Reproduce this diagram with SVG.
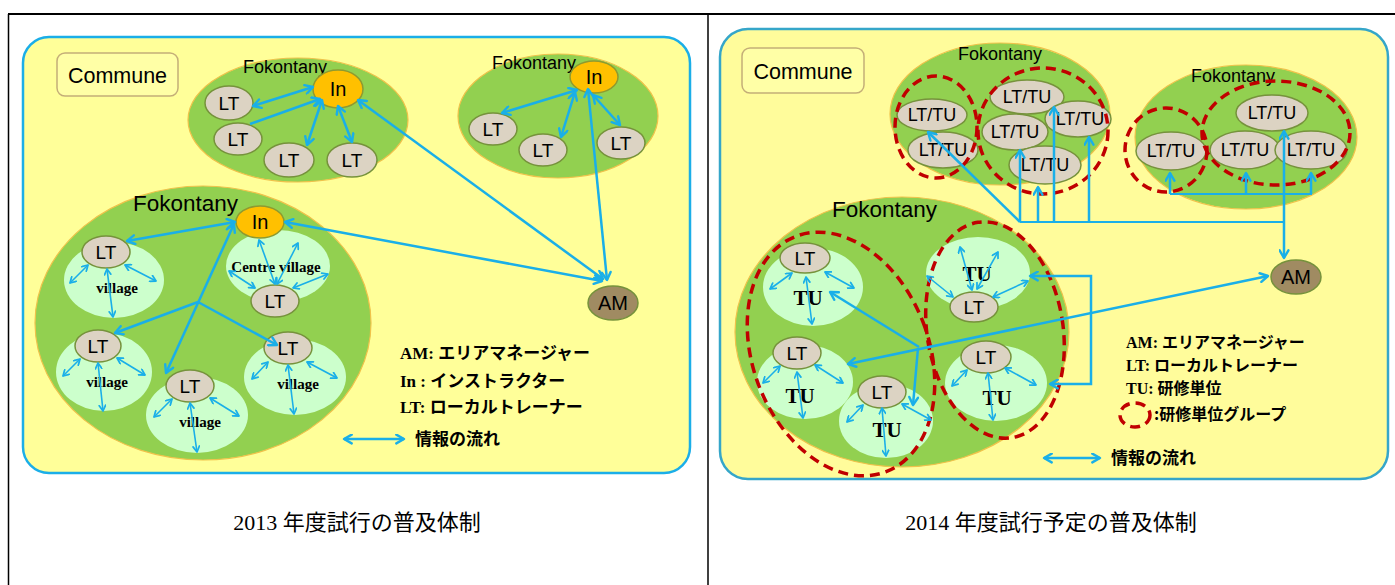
<svg xmlns="http://www.w3.org/2000/svg" width="1395" height="585" viewBox="0 0 1395 585">
<style>
.bg{fill:#FFFFFF}
.tb{stroke:#000;fill:none}
.pl{fill:#FFFF99;stroke:#1BAEE8;stroke-width:2.5}
.pr{fill:#FFFC9B;stroke:#35A6C9;stroke-width:2.5}
.cm{fill:#FFFFA6;stroke:#C4AE78;stroke-width:1.5}
.fk{fill:#92D050;stroke:#F0C24A;stroke-width:1.2}
.lt{fill:#DCD3C3;stroke:#76923C;stroke-width:1.5}
.in{fill:#FFC000;stroke:#8E9A30;stroke-width:1.5}
.am{fill:#A08B62;stroke:#76923C;stroke-width:1.5}
.vil{fill:#CCFFCC}
.grp{fill:none;stroke:#C00000;stroke-width:3.5;stroke-dasharray:10 6}
.t{font-family:"Liberation Sans",Arial,sans-serif;text-anchor:middle;fill:#000}
.ts{font-family:"Liberation Sans",Arial,sans-serif;fill:#000}
.sv{font-family:"Liberation Serif","Times New Roman",serif;font-weight:bold;text-anchor:middle;fill:#000}
.lg{font-family:"Liberation Serif","Noto Sans CJK JP",serif;font-weight:bold;fill:#000}
.jp{font-family:"Noto Sans CJK JP",sans-serif;font-weight:bold}
.cap{font-family:"Liberation Serif","Noto Sans CJK JP",serif;font-size:22px;text-anchor:middle;fill:#000}
.a{stroke:#1AAFE8;stroke-width:2.5;fill:none;marker-end:url(#ah)}
.a2{stroke:#1AAFE8;stroke-width:2.5;fill:none;marker-end:url(#ah);marker-start:url(#ah)}
.ln{stroke:#1AAFE8;stroke-width:2.2;fill:none}
.s{stroke:#1AAFE8;stroke-width:1.6;fill:none;marker-end:url(#as);marker-start:url(#as)}
</style>
<defs>
<marker id="ah" viewBox="0 0 10 10" refX="8.5" refY="5" markerWidth="11" markerHeight="11" markerUnits="userSpaceOnUse" orient="auto-start-reverse"><path d="M1.5,1 L8.5,5 L1.5,9" fill="none" stroke="#1AAFE8" stroke-width="2.2" stroke-linecap="round" stroke-linejoin="round"/></marker>
<marker id="as" viewBox="0 0 10 10" refX="8.5" refY="5" markerWidth="8" markerHeight="8" markerUnits="userSpaceOnUse" orient="auto-start-reverse"><path d="M1.5,1 L8.5,5 L1.5,9" fill="none" stroke="#1AAFE8" stroke-width="2.2" stroke-linecap="round" stroke-linejoin="round"/></marker>
</defs>
<rect class="bg" x="0" y="0" width="1395" height="585"/>
<g id="table">
<line class="tb" x1="8" y1="14" x2="1395" y2="14" stroke-width="2"/>
<line class="tb" x1="8.5" y1="14" x2="8.5" y2="585" stroke-width="1.5"/>
<line class="tb" x1="708" y1="14" x2="708" y2="585" stroke-width="1.5"/>
</g>

<!-- ===== 2013 panel ===== -->
<g id="commune-2013">
<rect class="pl" x="23" y="37" width="667" height="436" rx="26"/>
<rect class="cm" x="57" y="53" width="121" height="43" rx="8"/>
<text class="t" x="117.5" y="83" font-size="21.5">Commune</text>
</g>
<g id="fk13-1">
<ellipse class="fk" cx="298" cy="120" rx="110" ry="62"/>
<text class="ts" x="243" y="73" font-size="18">Fokontany</text>
</g>
<g id="fk13-2">
<ellipse class="fk" cx="558" cy="116" rx="100" ry="62"/>
<text class="ts" x="492" y="69" font-size="18">Fokontany</text>
</g>
<g id="fk13-3">
<ellipse class="fk" cx="203" cy="323" rx="168" ry="137"/>
<text class="ts" x="133" y="211" font-size="22.5">Fokontany</text>
</g>
<g id="vil13-a"><ellipse class="vil" cx="114" cy="280" rx="50" ry="38"/><text class="sv" x="117" y="293" font-size="15">village</text></g>
<g id="vil13-centre"><ellipse class="vil" cx="278" cy="266" rx="52" ry="36"/><text class="sv" x="276" y="272" font-size="15">Centre village</text></g>
<g id="vil13-b"><ellipse class="vil" cx="104" cy="372" rx="48" ry="39"/><text class="sv" x="107" y="387" font-size="15">village</text></g>
<g id="vil13-c"><ellipse class="vil" cx="197" cy="415" rx="51" ry="38"/><text class="sv" x="200" y="427" font-size="15">village</text></g>
<g id="vil13-d"><ellipse class="vil" cx="295" cy="377" rx="51" ry="38"/><text class="sv" x="298" y="389" font-size="15">village</text></g>

<g id="in13-1"><ellipse class="in" cx="338" cy="89" rx="25" ry="19"/><text class="t" x="338" y="96" font-size="20">In</text></g>
<g id="lt13-1a"><ellipse class="lt" cx="229" cy="103" rx="24" ry="17"/><text class="t" x="229" y="110" font-size="19">LT</text></g>
<g id="lt13-1b"><ellipse class="lt" cx="238" cy="139" rx="24" ry="16"/><text class="t" x="238" y="146" font-size="19">LT</text></g>
<g id="lt13-1c"><ellipse class="lt" cx="289" cy="160" rx="25" ry="17"/><text class="t" x="289" y="167" font-size="19">LT</text></g>
<g id="lt13-1d"><ellipse class="lt" cx="352" cy="160" rx="25" ry="17"/><text class="t" x="352" y="167" font-size="19">LT</text></g>

<g id="in13-2"><ellipse class="in" cx="594" cy="77" rx="24" ry="16"/><text class="t" x="594" y="84" font-size="20">In</text></g>
<g id="lt13-2a"><ellipse class="lt" cx="493" cy="129" rx="24" ry="16"/><text class="t" x="493" y="136" font-size="19">LT</text></g>
<g id="lt13-2b"><ellipse class="lt" cx="543" cy="150" rx="24" ry="16"/><text class="t" x="543" y="157" font-size="19">LT</text></g>
<g id="lt13-2c"><ellipse class="lt" cx="621" cy="143" rx="24" ry="16"/><text class="t" x="621" y="150" font-size="19">LT</text></g>

<g id="in13-3"><ellipse class="in" cx="260" cy="222" rx="24" ry="16"/><text class="t" x="260" y="229" font-size="20">In</text></g>
<g id="lt13-3a"><ellipse class="lt" cx="106" cy="252" rx="24" ry="16"/><text class="t" x="106" y="259" font-size="19">LT</text></g>
<g id="lt13-3centre"><ellipse class="lt" cx="275" cy="301" rx="24" ry="16"/><text class="t" x="275" y="308" font-size="19">LT</text></g>
<g id="lt13-3b"><ellipse class="lt" cx="98" cy="346" rx="23" ry="16"/><text class="t" x="98" y="353" font-size="19">LT</text></g>
<g id="lt13-3c"><ellipse class="lt" cx="190" cy="386" rx="24" ry="16"/><text class="t" x="190" y="393" font-size="19">LT</text></g>
<g id="lt13-3d"><ellipse class="lt" cx="288" cy="348" rx="24" ry="16"/><text class="t" x="288" y="355" font-size="19">LT</text></g>

<g id="am13"><ellipse class="am" cx="613" cy="303" rx="25" ry="17"/><text class="t" x="613" y="310" font-size="20">AM</text></g>

<g id="connectors-2013">
<line class="a2" x1="313" y1="87" x2="253" y2="106"/>
<line class="a" x1="250" y1="124" x2="320" y2="99"/>
<line class="a2" x1="322" y1="100" x2="307" y2="145"/>
<line class="a2" x1="338" y1="106" x2="352" y2="142"/>
<line class="a2" x1="358" y1="100" x2="603" y2="279"/>
<line class="a2" x1="577" y1="90" x2="502" y2="113"/>
<line class="a2" x1="575" y1="92" x2="561" y2="137"/>
<line class="a2" x1="593" y1="95" x2="620" y2="125"/>
<line class="a2" x1="588" y1="89" x2="607" y2="280"/>
<line class="a2" x1="285" y1="222" x2="602" y2="281"/>
<line class="a2" x1="235" y1="222" x2="127" y2="241"/>
<line class="a2" x1="234" y1="224" x2="166" y2="373"/>
<line class="a" x1="198" y1="302" x2="115" y2="333"/>
<line class="a" x1="198" y1="302" x2="277" y2="345"/>
<line class="s" x1="88" y1="265" x2="70" y2="283"/>
<line class="s" x1="125" y1="265" x2="156" y2="281"/>
<line class="s" x1="107" y1="269" x2="113" y2="317"/>
<line class="s" x1="259" y1="240" x2="275" y2="284" stroke-width="2"/>
<line class="s" x1="298" y1="243" x2="277" y2="284"/>
<line class="s" x1="255" y1="288" x2="229" y2="271"/>
<line class="s" x1="293" y1="288" x2="328" y2="274"/>
<line class="s" x1="80" y1="359" x2="63" y2="376"/>
<line class="s" x1="117" y1="358" x2="145" y2="375"/>
<line class="s" x1="98" y1="363" x2="103" y2="411"/>
<line class="s" x1="172" y1="399" x2="154" y2="417"/>
<line class="s" x1="210" y1="398" x2="239" y2="416"/>
<line class="s" x1="190" y1="403" x2="197" y2="452"/>
<line class="s" x1="268" y1="362" x2="252" y2="379"/>
<line class="s" x1="307" y1="362" x2="337" y2="378"/>
<line class="s" x1="288" y1="365" x2="294" y2="414"/>
</g>

<g id="legend-2013">
<text class="lg" x="400" y="359" font-size="17">AM: <tspan class="jp">エリアマネージャー</tspan></text>
<text class="lg" x="400" y="387" font-size="17">In : <tspan class="jp">インストラクター</tspan></text>
<text class="lg" x="400" y="413" font-size="17">LT: <tspan class="jp">ローカルトレーナー</tspan></text>
<line class="a2" x1="344" y1="439" x2="404" y2="439"/>
<text class="jp" x="415" y="445" font-size="17">情報の流れ</text>
</g>

<!-- ===== 2014 panel ===== -->
<g id="commune-2014">
<rect class="pr" x="720" y="29" width="668" height="450" rx="28"/>
<rect class="cm" x="742" y="48" width="122" height="45" rx="8"/>
<text class="t" x="803" y="79" font-size="21.5">Commune</text>
</g>
<g id="fk14-1">
<ellipse class="fk" cx="1000" cy="114" rx="110" ry="71" stroke="none"/>
<text class="ts" x="958" y="60" font-size="18">Fokontany</text>
</g>
<g id="fk14-2">
<ellipse class="fk" cx="1246" cy="137" rx="111" ry="72" stroke="none"/>
<text class="ts" x="1191" y="82" font-size="18">Fokontany</text>
</g>
<g id="fk14-3">
<ellipse class="fk" cx="902" cy="332" rx="167" ry="135" stroke="none"/>
<text class="ts" x="832" y="217" font-size="22.5">Fokontany</text>
</g>

<g id="lttu-a"><ellipse class="lt" cx="932" cy="115" rx="35" ry="16"/><text class="t" x="932" y="121" font-size="18">LT/TU</text></g>
<g id="lttu-b"><ellipse class="lt" cx="943" cy="150" rx="35" ry="18"/><text class="t" x="943" y="156" font-size="18">LT/TU</text></g>
<g id="lttu-c"><ellipse class="lt" cx="1027" cy="97" rx="37" ry="17"/><text class="t" x="1027" y="103" font-size="18">LT/TU</text></g>
<g id="lttu-d"><ellipse class="lt" cx="1015" cy="132" rx="33" ry="18"/><text class="t" x="1015" y="138" font-size="18">LT/TU</text></g>
<g id="lttu-e"><ellipse class="lt" cx="1078" cy="119" rx="33" ry="18"/><text class="t" x="1080" y="125" font-size="18">LT/TU</text></g>
<g id="lttu-f"><ellipse class="lt" cx="1045" cy="165" rx="36" ry="19"/><text class="t" x="1045" y="171" font-size="18">LT/TU</text></g>
<g id="lttu-g"><ellipse class="lt" cx="1171" cy="151" rx="35" ry="19"/><text class="t" x="1171" y="157" font-size="18">LT/TU</text></g>
<g id="lttu-h"><ellipse class="lt" cx="1272" cy="113" rx="36" ry="18"/><text class="t" x="1272" y="119" font-size="18">LT/TU</text></g>
<g id="lttu-i"><ellipse class="lt" cx="1245" cy="150" rx="35" ry="19"/><text class="t" x="1245" y="156" font-size="18">LT/TU</text></g>
<g id="lttu-j"><ellipse class="lt" cx="1311" cy="150" rx="36" ry="19"/><text class="t" x="1311" y="156" font-size="18">LT/TU</text></g>

<g id="tu-1"><ellipse class="vil" cx="813" cy="287" rx="50" ry="39"/><text class="sv" x="808" y="305" font-size="21">TU</text></g>
<g id="tu-2"><ellipse class="vil" cx="978" cy="273" rx="52" ry="36"/><text class="sv" x="977" y="281" font-size="21">TU</text></g>
<g id="tu-3"><ellipse class="vil" cx="805" cy="382" rx="48" ry="37"/><text class="sv" x="800" y="403" font-size="21">TU</text></g>
<g id="tu-4"><ellipse class="vil" cx="886" cy="421" rx="47" ry="37"/><text class="sv" x="887" y="437" font-size="21">TU</text></g>
<g id="tu-5"><ellipse class="vil" cx="996" cy="383" rx="51" ry="38"/><text class="sv" x="997" y="405" font-size="21">TU</text></g>

<g id="lt14-1"><ellipse class="lt" cx="805" cy="258" rx="25" ry="15"/><text class="t" x="805" y="265" font-size="19">LT</text></g>
<g id="lt14-2"><ellipse class="lt" cx="974" cy="307" rx="24" ry="15"/><text class="t" x="974" y="314" font-size="19">LT</text></g>
<g id="lt14-3"><ellipse class="lt" cx="797" cy="353" rx="24" ry="16"/><text class="t" x="797" y="360" font-size="19">LT</text></g>
<g id="lt14-4"><ellipse class="lt" cx="882" cy="392" rx="24" ry="16"/><text class="t" x="882" y="399" font-size="19">LT</text></g>
<g id="lt14-5"><ellipse class="lt" cx="986" cy="357" rx="25" ry="16"/><text class="t" x="986" y="364" font-size="19">LT</text></g>

<g id="am14"><ellipse class="am" cx="1296" cy="277" rx="25" ry="17"/><text class="t" x="1296" y="284" font-size="20">AM</text></g>

<g id="groups-2014">
<ellipse class="grp" cx="936" cy="127" rx="41" ry="51"/>
<ellipse class="grp" cx="1043" cy="131" rx="65" ry="63"/>
<ellipse class="grp" cx="1166" cy="150" rx="41" ry="42"/>
<ellipse class="grp" cx="1276" cy="133" rx="74" ry="52"/>
<ellipse class="grp" cx="0" cy="0" rx="88" ry="126" transform="translate(841 354) rotate(-21)"/>
<ellipse class="grp" cx="0" cy="0" rx="68" ry="109" transform="translate(995 330) rotate(-9)"/>
</g>

<g id="connectors-2014">
<line class="ln" x1="1020" y1="222" x2="1284" y2="222"/>
<line class="a2" x1="1284" y1="131" x2="1284" y2="258" stroke-width="2.2"/>
<line class="a" x1="1020" y1="222" x2="1020" y2="150" stroke-width="2.2"/>
<line class="a" x1="1038" y1="222" x2="1038" y2="187" stroke-width="2.2"/>
<line class="a" x1="1054" y1="222" x2="1054" y2="107" stroke-width="2.2"/>
<line class="a" x1="1089" y1="222" x2="1089" y2="137" stroke-width="2.2"/>
<line class="a" x1="1020" y1="222" x2="928" y2="132" stroke-width="2.2"/>
<line class="ln" x1="1170" y1="194" x2="1312" y2="194"/>
<line class="a" x1="1170" y1="194" x2="1170" y2="173" stroke-width="2.2"/>
<line class="a" x1="1246" y1="194" x2="1246" y2="173" stroke-width="2.2"/>
<line class="a" x1="1311" y1="194" x2="1311" y2="173" stroke-width="2.2"/>
<line class="a2" x1="1268" y1="276" x2="848" y2="364" stroke-width="2.2"/>
<line class="a" x1="919" y1="347" x2="830" y2="292" stroke-width="2.2"/>
<line class="a" x1="918" y1="348" x2="913" y2="405" stroke-width="2.2"/>
<path class="a2" d="M1030,276 H1091 V384 H1050" stroke-width="2.2"/>
<line class="s" x1="792" y1="273" x2="770" y2="289"/>
<line class="s" x1="825" y1="272" x2="854" y2="288"/>
<line class="s" x1="806" y1="277" x2="812" y2="324"/>
<line class="s" x1="972" y1="290" x2="960" y2="247"/>
<line class="s" x1="977" y1="289" x2="998" y2="252"/>
<line class="s" x1="953" y1="297" x2="927" y2="276"/>
<line class="s" x1="993" y1="297" x2="1028" y2="281"/>
<line class="s" x1="780" y1="366" x2="763" y2="383"/>
<line class="s" x1="815" y1="365" x2="843" y2="383"/>
<line class="s" x1="797" y1="372" x2="803" y2="418"/>
<line class="s" x1="863" y1="405" x2="847" y2="422"/>
<line class="s" x1="902" y1="404" x2="931" y2="420"/>
<line class="s" x1="882" y1="408" x2="886" y2="456"/>
<line class="s" x1="967" y1="370" x2="952" y2="386"/>
<line class="s" x1="1005" y1="368" x2="1036" y2="385"/>
<line class="s" x1="988" y1="373" x2="993" y2="420"/>
</g>

<g id="legend-2014">
<text class="lg" x="1126" y="348" font-size="16">AM: <tspan class="jp">エリアマネージャー</tspan></text>
<text class="lg" x="1126" y="371" font-size="16">LT: <tspan class="jp">ローカルトレーナー</tspan></text>
<text class="lg" x="1126" y="394" font-size="16">TU: <tspan class="jp">研修単位</tspan></text>
<ellipse class="grp" cx="1135" cy="415" rx="15" ry="12" stroke-dasharray="8 5"/>
<text class="jp" x="1154" y="420" font-size="16">:研修単位グループ</text>
<line class="a2" x1="1044" y1="458" x2="1100" y2="458"/>
<text class="jp" x="1111" y="464" font-size="17">情報の流れ</text>
</g>

<g id="captions">
<text class="cap" x="357" y="530">2013 年度試行の普及体制</text>
<text class="cap" x="1051" y="530">2014 年度試行予定の普及体制</text>
</g>
</svg>
